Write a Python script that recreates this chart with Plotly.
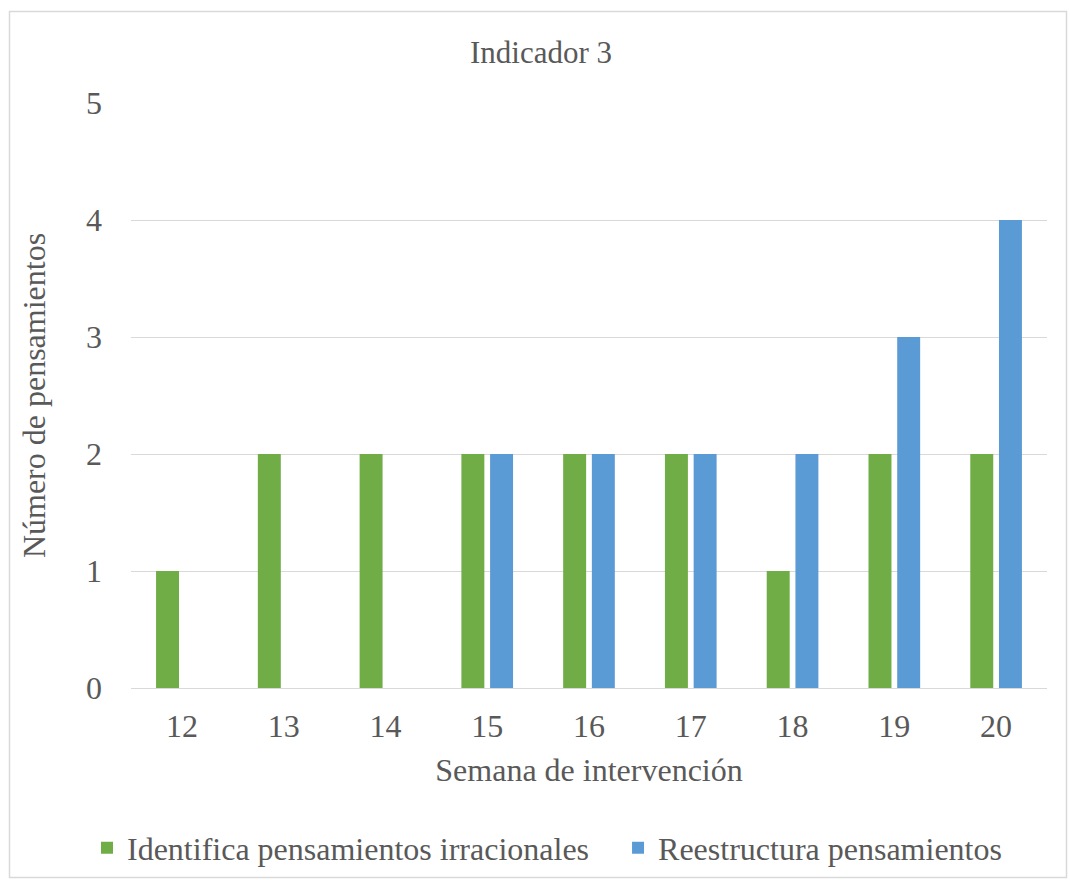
import plotly.graph_objects as go

# Weekly counts of thoughts for indicator 3
semanas = ["12", "13", "14", "15", "16", "17", "18", "19", "20"]
identifica = [1, 2, 2, 2, 2, 2, 1, 2, 2]
reestructura = [0, 0, 0, 2, 2, 2, 2, 3, 4]

W, H = 1070, 880
L, R, T, B = 131, 23, 103, 192
pw, ph = W - L - R, H - T - B

FONT = "Liberation Serif, Times New Roman, serif"
TXT = "#595959"
FS = 32
PAD = "\u00a0" * 3  # extra room between the two legend entries


def px_x(px):
    return (px - L) / pw


def px_y(py):
    return (H - B - py) / ph


fig = go.Figure()
fig.add_trace(go.Bar(x=semanas, y=identifica, name="Identifica pensamientos irracionales" + PAD,
                     marker=dict(color="#70AD47", line=dict(width=0))))
fig.add_trace(go.Bar(x=semanas, y=reestructura, name="Reestructura pensamientos",
                     marker=dict(color="#5B9BD5", line=dict(width=0))))

fig.update_layout(
    width=W, height=H,
    margin=dict(l=L, r=R, t=T, b=B),
    paper_bgcolor="white", plot_bgcolor="white",
    font=dict(family=FONT, color=TXT, size=FS),
    barmode="group", bargap=0.436, bargroupgap=0.2,
    title=dict(text="Indicador 3", x=541 / W, xanchor="center", xref="container",
               y=1 - 52 / H, yanchor="middle", yref="container",
               font=dict(size=31, color=TXT)),
    xaxis=dict(type="category", showgrid=False, showline=True, linecolor="#D9D9D9",
               linewidth=1, ticks="", ticklabelstandoff=10,
               title=dict(text="Semana de intervención", standoff=15,
                          font=dict(size=FS, color=TXT))),
    yaxis=dict(range=[0, 5], dtick=1, showgrid=True, gridcolor="#D9D9D9", gridwidth=1,
               zeroline=False, showline=False, ticks="", ticklabelstandoff=28,
               title=dict(text="Número de pensamientos", standoff=30,
                          font=dict(size=FS, color=TXT))),
    legend=dict(orientation="h", x=547 / W, xanchor="center", xref="container",
                y=1 - 848 / H, yanchor="middle", yref="container",
                font=dict(size=FS, color=TXT),
                itemwidth=30, traceorder="normal"),
    shapes=[dict(type="rect", xref="paper", yref="paper", layer="below",
                 x0=px_x(9.5), x1=px_x(1066.5), y0=px_y(877.5), y1=px_y(11.5),
                 line=dict(color="#D9D9D9", width=1.5), fillcolor="rgba(0,0,0,0)")],
)

fig.write_html("out.html")
